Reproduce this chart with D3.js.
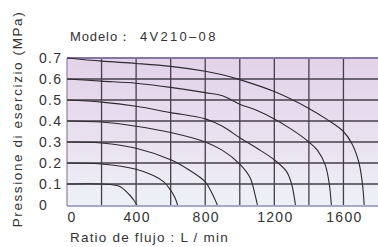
<!DOCTYPE html>
<html>
<head>
<meta charset="utf-8">
<title>Modelo 4V210-08</title>
<style>
  body { margin: 0; background: #fff; }
  svg { display: block; }
  text { font-family: "Liberation Sans", Arial, sans-serif; fill: #333; }
</style>
</head>
<body>
<svg width="378" height="247"></svg>
<script src="https://d3js.org/d3.v7.min.js"></script>
<script>
// pressure levels (MPa) and flow curves (L/min vs MPa)
var pressures = [0.1, 0.2, 0.3, 0.4, 0.5, 0.6, 0.7];
var flowTicks = [0, 400, 800, 1200, 1600];
var pressureTicks = [0, 0.1, 0.2, 0.3, 0.4, 0.5, 0.6, 0.7];

var curve01 = [[0,0.1],[200,0.1],[300,0.09],[360,0.05],[385,0.025],[405,0]];
var curve02 = [[0,0.2],[200,0.195],[400,0.17],[500,0.14],[560,0.11],[600,0.07],[625,0.035],[640,0]];
var curve03 = [[0,0.3],[200,0.295],[400,0.27],[600,0.215],[700,0.17],[800,0.11],[840,0.055],[870,0]];
var curve04 = [[0,0.4],[200,0.395],[400,0.375],[600,0.345],[800,0.3],[900,0.26],[1000,0.195],[1060,0.13],[1085,0.06],[1102,0]];
var curve05 = [[0,0.5],[200,0.49],[400,0.47],[600,0.44],[800,0.41],[900,0.375],[1000,0.32],[1100,0.27],[1200,0.215],[1270,0.16],[1300,0.1],[1322,0]];
var curve06 = [[0,0.6],[200,0.59],[400,0.58],[600,0.56],[800,0.535],[900,0.52],[1000,0.48],[1100,0.45],[1200,0.41],[1300,0.36],[1400,0.3],[1450,0.26],[1495,0.19],[1518,0.1],[1530,0]];
var curve07 = [[0,0.7],[200,0.685],[400,0.674],[600,0.66],[800,0.637],[900,0.62],[1000,0.597],[1200,0.54],[1400,0.46],[1500,0.41],[1600,0.35],[1650,0.29],[1690,0.2],[1710,0.1],[1720,0]];

var curves = [curve01, curve02, curve03, curve04, curve05, curve06, curve07];

var svg = d3.select("svg");
var x = d3.scaleLinear().domain([0, 1800]).range([67, 378]);
var y = d3.scaleLinear().domain([0, 0.7]).range([205, 58]);

// background gradient
var defs = svg.append("defs");
var grad = defs.append("linearGradient")
    .attr("id", "bg").attr("x1", 0).attr("y1", 0).attr("x2", 0).attr("y2", 1);
grad.append("stop").attr("offset", "0%").attr("stop-color", "#e3d2e8");
grad.append("stop").attr("offset", "55%").attr("stop-color", "#e9e1f0");
grad.append("stop").attr("offset", "100%").attr("stop-color", "#eef1f8");

svg.append("rect")
    .attr("x", x(0)).attr("y", y(0.7))
    .attr("width", x(1800) - x(0)).attr("height", y(0) - y(0.7))
    .attr("fill", "url(#bg)");

// grid
var grid = svg.append("g").attr("stroke", "#453f4a").attr("stroke-width", 1.3);
grid.selectAll("line.v")
    .data(d3.range(200, 1800, 200))
    .enter().append("line")
      .attr("x1", function(d) { return x(d); })
      .attr("x2", function(d) { return x(d); })
      .attr("y1", y(0.7)).attr("y2", y(0));
grid.selectAll("line.h")
    .data(pressures)
    .enter().append("line")
      .attr("x1", x(0)).attr("x2", x(1800))
      .attr("y1", function(d) { return y(d); })
      .attr("y2", function(d) { return y(d); });

// frame
svg.append("line").attr("x1", x(0)).attr("x2", x(1800)).attr("y1", y(0.7)).attr("y2", y(0.7))
    .attr("stroke", "#8676a8").attr("stroke-width", 1.8);
svg.append("line").attr("x1", x(0)).attr("x2", x(0)).attr("y1", y(0.7)).attr("y2", y(0) + 1)
    .attr("stroke", "#9080b0").attr("stroke-width", 1.2);
svg.append("line").attr("x1", x(0)).attr("x2", x(1800)).attr("y1", y(0) + 1).attr("y2", y(0) + 1)
    .attr("stroke", "#8c88c0").attr("stroke-width", 1.4);

// flow curves
var line = d3.line()
    .x(function(d) { return x(d[0]); })
    .y(function(d) { return y(d[1]); })
    .curve(d3.curveCatmullRom.alpha(0.5));

svg.append("g")
  .selectAll("path")
  .data(curves)
  .enter().append("path")
    .attr("d", line)
    .attr("fill", "none")
    .attr("stroke", "#2e2a30")
    .attr("stroke-width", 1.1);

// y tick labels
svg.append("g")
  .selectAll("text")
  .data(pressureTicks)
  .enter().append("text")
    .attr("x", 39)
    .attr("y", function(d) { return y(d); })
    .attr("dy", "0.36em")
    .attr("font-size", 14)
    .attr("letter-spacing", 1.3)
    .text(function(d) { return d === 0 ? "0" : d.toFixed(1); });

// x tick labels
svg.append("g")
  .selectAll("text")
  .data(flowTicks)
  .enter().append("text")
    .attr("x", function(d) { return d === 0 ? x(d) + 5 : x(d) + 1; })
    .attr("y", 222)
    .attr("text-anchor", "middle")
    .attr("font-size", 14)
    .attr("letter-spacing", 1.3)
    .text(function(d) { return d; });

// titles
var title = svg.append("text")
    .attr("x", 70).attr("y", 41)
    .attr("font-size", 13);
title.append("tspan").attr("letter-spacing", 0.9).text("Modelo：");
title.append("tspan").attr("x", 140).attr("letter-spacing", 2.3).text("4V210–08");

svg.append("text")
    .attr("x", 70).attr("y", 242)
    .attr("font-size", 13.5)
    .attr("letter-spacing", 1.2)
    .text("Ratio de flujo : L / min");

svg.append("text")
    .attr("transform", "translate(22,119) rotate(-90)")
    .attr("text-anchor", "middle")
    .attr("font-size", 13.5)
    .attr("letter-spacing", 1.6)
    .text("Pressione di esercizio (MPa)");
</script>
</body>
</html>
